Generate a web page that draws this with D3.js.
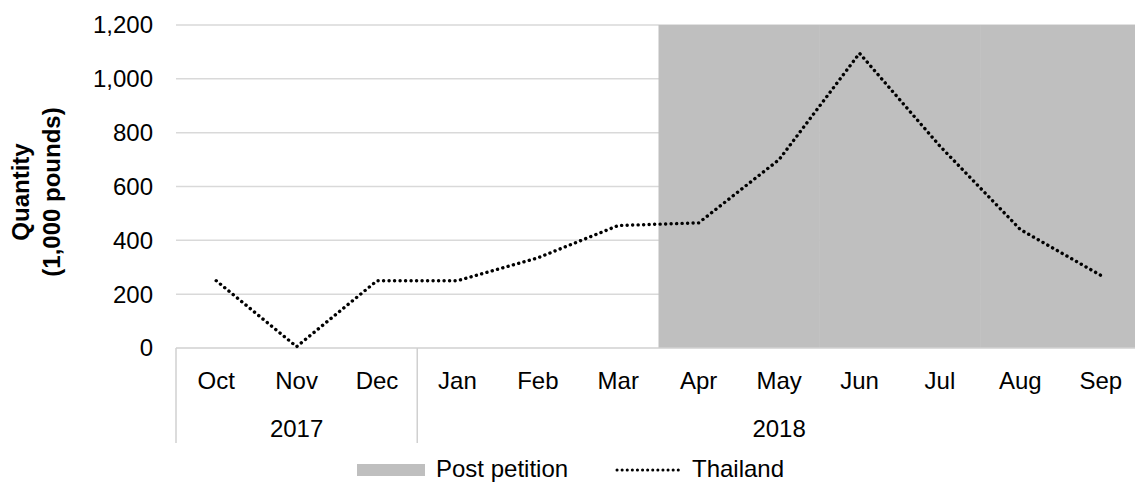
<!DOCTYPE html>
<html>
<head>
<meta charset="utf-8">
<script src="https://cdn.jsdelivr.net/npm/d3@7"></script>
<style>
  html, body { margin: 0; padding: 0; background: #fff; }
  svg { display: block; font-family: "Liberation Sans", Arial, sans-serif; }
</style>
</head>
<body>
<svg id="chart" width="1135" height="483"></svg>
<script>
// ---- data ----
const months = ["Oct","Nov","Dec","Jan","Feb","Mar","Apr","May","Jun","Jul","Aug","Sep"];
const monthKeys = ["2017-10","2017-11","2017-12","2018-01","2018-02","2018-03","2018-04","2018-05","2018-06","2018-07","2018-08","2018-09"];
const years = ["2017","2018"];
const yearSpans = [[0,2],[3,11]]; // index ranges of months per year
const thailand = [250, 5, 250, 250, 335, 455, 465, 700, 1095, 750, 440, 270];
const postPetition = [null, null, null, null, null, null, 1200, 1200, 1200, 1200, 1200, 1200];
const yTicks = [0, 200, 400, 600, 800, 1000, 1200];
const yTitle = ["Quantity", "(1,000 pounds)"];
const legendLabels = ["Post petition", "Thailand"];

// ---- layout ----
const svg = d3.select("#chart");
const mLeft = 176, mRight = 1141, mTop = 25, mBottom = 348;
const x = d3.scaleBand().domain(monthKeys).range([mLeft, mRight]).padding(0);
const y = d3.scaleLinear().domain([0, 1200]).range([mBottom, mTop]);
const fs = 24;

// gridlines
svg.append("g").selectAll("line").data(yTicks.filter(d => d > 0)).join("line")
  .attr("x1", mLeft).attr("x2", mRight)
  .attr("y1", d => y(d)).attr("y2", d => y(d))
  .attr("stroke", "#d9d9d9").attr("stroke-width", 1.5);

// post petition area (columns with zero gap)
svg.append("g").selectAll("rect")
  .data(monthKeys.map((k, i) => ({k, v: postPetition[i]})).filter(d => d.v != null))
  .join("rect")
  .attr("x", d => x(d.k)).attr("width", x.bandwidth() + 0.5)
  .attr("y", d => y(d.v)).attr("height", d => y(0) - y(d.v))
  .attr("fill", "#bfbfbf");

// category axis lines
svg.append("line").attr("x1", mLeft).attr("x2", mRight).attr("y1", mBottom).attr("y2", mBottom)
  .attr("stroke", "#d0d0d0").attr("stroke-width", 1.5);
const sepX = [mLeft, ...yearSpans.map(s => x(monthKeys[s[1]]) + x.bandwidth())];
svg.append("g").selectAll("line").data(sepX).join("line")
  .attr("x1", d => d).attr("x2", d => d)
  .attr("y1", mBottom).attr("y2", 443)
  .attr("stroke", "#d0d0d0").attr("stroke-width", 1.5);

// month labels
svg.append("g").selectAll("text").data(monthKeys).join("text")
  .attr("x", d => x(d) + x.bandwidth() / 2).attr("y", 389)
  .attr("text-anchor", "middle").attr("font-size", fs).attr("fill", "#000")
  .text((d, i) => months[i]);

// year labels
svg.append("g").selectAll("text").data(years).join("text")
  .attr("x", (d, i) => (x(monthKeys[yearSpans[i][0]]) + x(monthKeys[yearSpans[i][1]]) + x.bandwidth()) / 2)
  .attr("y", 437)
  .attr("text-anchor", "middle").attr("font-size", fs).attr("fill", "#000")
  .text(d => d);

// y tick labels
svg.append("g").selectAll("text").data(yTicks).join("text")
  .attr("x", 153).attr("y", d => y(d)).attr("dy", "0.35em")
  .attr("text-anchor", "end").attr("font-size", fs).attr("fill", "#000")
  .text(d => d3.format(",")(d));

// y axis title
const yt = svg.append("text").attr("transform", "translate(29,192) rotate(-90)")
  .attr("text-anchor", "middle").attr("font-size", fs).attr("font-weight", "bold").attr("fill", "#000");
yt.append("tspan").attr("x", 0).attr("y", 0).text(yTitle[0]);
yt.append("tspan").attr("x", 0).attr("y", 31).text(yTitle[1]);

// Thailand line
const line = d3.line()
  .x((d, i) => x(monthKeys[i]) + x.bandwidth() / 2)
  .y(d => y(d));
svg.append("path").datum(thailand).attr("d", line)
  .attr("fill", "none").attr("stroke", "#000").attr("stroke-width", 3.4)
  .attr("stroke-linecap", "round").attr("stroke-dasharray", "0.1 5.4");

// legend
const lg = svg.append("g");
lg.append("rect").attr("x", 357).attr("y", 464).attr("width", 68).attr("height", 12).attr("fill", "#bfbfbf");
lg.append("text").attr("x", 436).attr("y", 477).attr("font-size", fs).attr("fill", "#000").text(legendLabels[0]);
lg.append("line").attr("x1", 617).attr("x2", 680).attr("y1", 470).attr("y2", 470)
  .attr("stroke", "#000").attr("stroke-width", 3).attr("stroke-linecap", "round").attr("stroke-dasharray", "0.1 5");
lg.append("text").attr("x", 692).attr("y", 477).attr("font-size", fs).attr("fill", "#000").text(legendLabels[1]);
</script>
</body>
</html>
